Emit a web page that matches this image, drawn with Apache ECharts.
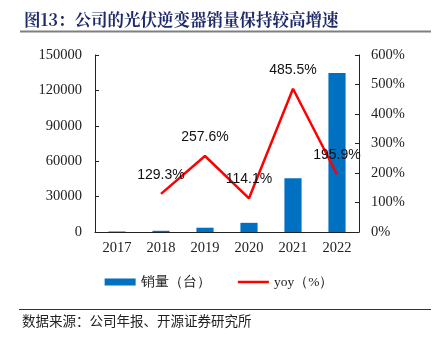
<!DOCTYPE html>
<html>
<head>
<meta charset="utf-8">
<script src="https://cdn.jsdelivr.net/npm/echarts@6/dist/echarts.min.js"></script>
<style>html,body{margin:0;padding:0;background:#fff;}#c{width:438px;height:339px;}</style>
</head>
<body>
<div id="c"></div>
<script>
var categories = ['2017', '2018', '2019', '2020', '2021', '2022'];
var salesValues = [440, 1015, 3630, 7770, 45500, 134700];
var yoyValues = ['-', 129.3, 257.6, 114.1, 485.5, 195.9];
var yoyLabels = ['', '129.3%', '257.6%', '114.1%', '485.5%', '195.9%'];
var leftTicks = [0, 30000, 60000, 90000, 120000, 150000];
var rightTicks = [0, 100, 200, 300, 400, 500, 600];

var chart = echarts.init(document.getElementById('c'), null, {renderer: 'canvas'});
var serif = '"Liberation Serif", "Times New Roman", serif';
var cjk = '"Noto Sans CJK SC", sans-serif';
var option = {
  animation: false,
  backgroundColor: '#fff',
  title: {
    text: '图13：公司的光伏逆变器销量保持较高增速',
    left: 19, top: 6,
    textStyle: {fontFamily: '"Noto Serif CJK SC", "Noto Sans CJK SC", serif', fontWeight: 'bold', fontSize: 16.5, color: '#1f2a6b'}
  },
  graphic: [
    {type: 'line', shape: {x1: 20, y1: 31.5, x2: 431, y2: 31.5}, style: {stroke: '#7f7f7f', lineWidth: 2}},
    {type: 'line', shape: {x1: 19, y1: 309.5, x2: 431, y2: 309.5}, style: {stroke: '#333', lineWidth: 1}},
    {type: 'text', left: 22, top: 314, style: {text: '数据来源：公司年报、开源证券研究所', font: '13.5px ' + cjk, fill: '#222'}}
  ],
  legend: {
    bottom: 45, left: 'center',
    itemGap: 26,
    textStyle: {fontFamily: serif, fontSize: 13.5, color: '#222'},
    data: [
      {name: '销量（台）', icon: 'rect', itemStyle: {color: '#0070c0'}},
      {name: 'yoy（%）', itemStyle: {opacity: 0}, lineStyle: {color: '#ff0000', width: 2.5}}
    ],
    itemWidth: 31, itemHeight: 7
  },
  grid: {left: 95, right: 79, top: 55, bottom: 107, containLabel: false},
  xAxis: {
    type: 'category', data: categories,
    axisLine: {lineStyle: {color: '#222', width: 1}},
    axisTick: {inside: true, length: 4, lineStyle: {color: '#222'}},
    axisLabel: {fontFamily: serif, fontSize: 14.5, color: '#222', margin: 9}
  },
  yAxis: [
    {
      type: 'value', min: leftTicks[0], max: leftTicks[leftTicks.length - 1], interval: leftTicks[1] - leftTicks[0],
      axisLine: {show: true, lineStyle: {color: '#222'}},
      axisTick: {show: true, inside: true, length: 4, lineStyle: {color: '#222'}},
      splitLine: {show: false},
      axisLabel: {fontFamily: serif, fontSize: 14.5, color: '#222', margin: 13, formatter: function (v) { return String(v); }}
    },
    {
      type: 'value', min: rightTicks[0], max: rightTicks[rightTicks.length - 1], interval: rightTicks[1] - rightTicks[0],
      axisLine: {show: true, lineStyle: {color: '#222'}},
      axisTick: {show: true, inside: true, length: 4, lineStyle: {color: '#222'}},
      splitLine: {show: false},
      axisLabel: {fontFamily: serif, fontSize: 14.5, color: '#222', margin: 12, formatter: '{value}%'}
    }
  ],
  series: [
    {
      name: '销量（台）', type: 'bar', data: salesValues, yAxisIndex: 0,
      barWidth: '39%',
      itemStyle: {color: '#0070c0'}
    },
    {
      name: 'yoy（%）', type: 'line', data: yoyValues, yAxisIndex: 1,
      symbol: 'circle', symbolSize: 0, showSymbol: true, showAllSymbol: true,
      lineStyle: {color: '#ff0000', width: 2.5},
      itemStyle: {color: '#ff0000'},
      label: {
        show: true, position: 'top', distance: 12,
        formatter: function (p) { return yoyLabels[p.dataIndex]; },
        fontFamily: '"Liberation Sans", Arial, sans-serif', fontSize: 14, color: '#111'
      }
    }
  ]
};
chart.setOption(option);
</script>
</body>
</html>
